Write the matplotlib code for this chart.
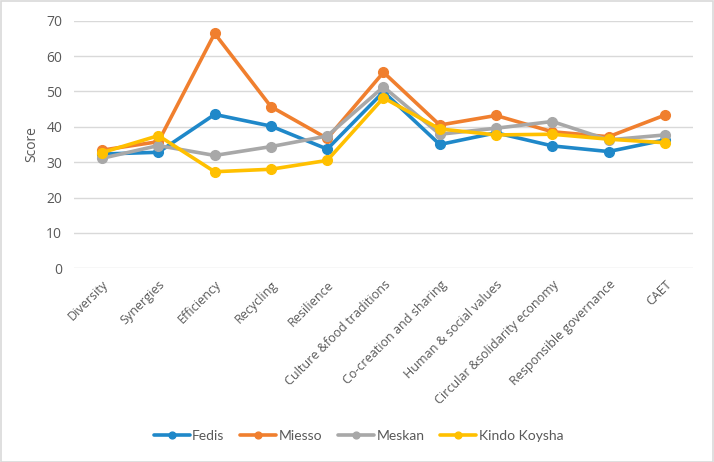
import matplotlib
matplotlib.use("Agg")
import matplotlib.pyplot as plt
from matplotlib.patches import Rectangle

categories = ["Diversity", "Synergies", "Efficiency", "Recycling", "Resilience",
              "Culture &food traditions", "Co-creation and sharing",
              "Human & social values", "Circular &solidarity economy",
              "Responsible governance", "CAET"]
fedis = [32.3, 32.8, 43.5, 40.2, 33.7, 49.9, 35.0, 38.3, 34.6, 33.0, 36.3]
miesso = [33.4, 35.8, 66.4, 45.7, 36.7, 55.4, 40.5, 43.2, 38.6, 37.2, 43.3]
meskan = [31.1, 34.7, 31.9, 34.4, 37.4, 51.3, 37.9, 39.6, 41.5, 36.3, 37.7]
kindo = [32.7, 37.5, 27.3, 28.0, 30.5, 48.2, 39.4, 37.7, 37.9, 36.5, 35.5]
series_names = ["Fedis", "Miesso", "Meskan", "Kindo Koysha"]
yticks = [0, 10, 20, 30, 40, 50, 60, 70]

plt.rcParams['font.family'] = ['Open Sans', 'DejaVu Sans']
fig = plt.figure(figsize=(7.14, 4.62), dpi=100)
ax = fig.add_axes([0.1036, 0.4193, 0.867, 0.5359])

colors = ["#1F88C9", "#F07F2E", "#A8A8A8", "#FFC000"]
x = list(range(len(categories)))
for vals, name, c in zip([fedis, miesso, meskan, kindo], series_names, colors):
    ax.plot(x, vals, color=c, lw=2.6, marker='o', ms=7, label=name,
            solid_capstyle='round', solid_joinstyle='round')

ax.set_xlim(-0.5, len(categories) - 0.5)
ax.set_ylim(0, 70)
ax.set_yticks(yticks)
ax.set_xticks(x)
ax.set_xticklabels(categories, rotation=45, ha='right', rotation_mode='anchor',
                   fontsize=9, color='#595959')
ax.tick_params(axis='y', labelsize=10, colors='#595959', length=0, pad=8.5)
ax.tick_params(axis='x', length=0, pad=7)
ax.grid(axis='y', color='#D9D9D9', lw=1)
ax.set_axisbelow(True)
for s in ax.spines.values():
    s.set_visible(False)
ax.set_ylabel("Score", fontsize=10, color='#595959', labelpad=5)

leg = fig.legend(loc='center', bbox_to_anchor=(0.502, 0.057), ncol=4, frameon=False,
                 prop={'family': ['Lato', 'DejaVu Sans'], 'size': 10},
                 labelcolor='#595959', handlelength=2.6, columnspacing=1.15,
                 handletextpad=0.15, markerscale=0.7)

fig.patches.append(Rectangle((0.001, 0.001), 0.997, 0.997, transform=fig.transFigure,
                             fill=False, edgecolor='#D9D9D9', lw=1.2))
fig.savefig("out.png", dpi=100, facecolor='white')
